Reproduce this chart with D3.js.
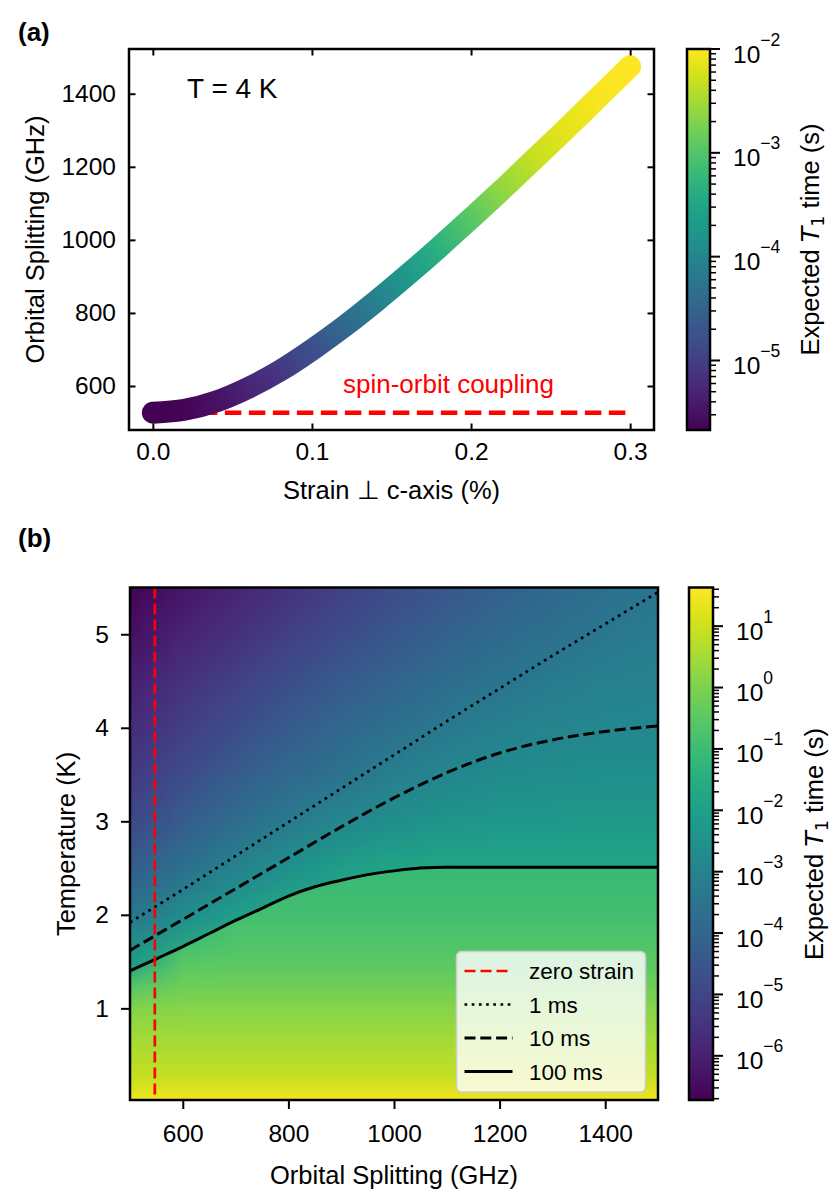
<!DOCTYPE html>
<html>
<head>
<meta charset="utf-8">
<script src="https://cdn.jsdelivr.net/npm/d3@7"></script>
<style>
  body { margin: 0; background: #fff; }
  svg text { font-family: "Liberation Sans", Arial, Helvetica, sans-serif; fill: #000; }
</style>
</head>
<body>
<div id="chart"></div>
<script>
// ---------- panel (a): splitting vs strain at T = 4 K ----------
const strainPct = [0.00, 0.02, 0.04, 0.06, 0.08, 0.10, 0.12, 0.14, 0.16, 0.18, 0.20, 0.22, 0.24, 0.26, 0.28, 0.30];
const splittingGHz = [527, 535, 558, 595, 642, 699, 762, 831, 904, 980, 1059, 1139, 1222, 1305, 1390, 1475];
const t1At4K = [2.14e-6, 2.34e-6, 3.09e-6, 4.90e-6, 8.51e-6, 1.70e-5, 3.63e-5, 8.32e-5, 2.00e-4, 4.68e-4,
                1.12e-3, 2.51e-3, 4.79e-3, 7.24e-3, 8.91e-3, 1.00e-2];
const spinOrbitGHz = 527;
const strainTicks = [0, 0.1, 0.2, 0.3];
const splitTicksA = [600, 800, 1000, 1200, 1400];
const cbarTicksA = [-5, -4, -3, -2];

// ---------- panel (b): T1 map over splitting and temperature ----------
const gridGHz = [500, 600, 700, 800, 900, 1000, 1100, 1200, 1300, 1400, 1500];
// log10(T1 / s) above the 100 ms boundary, rows from T = 5.5 K down to 1.0 K
const upperT = [5.5, 5.0, 4.5, 4.0, 3.5, 3.0, 2.5, 2.0, 1.5, 1.0];
const upperLogT1 = [
  [-6.65, -6.20, -5.85, -5.50, -5.12, -4.78, -4.45, -4.15, -3.90, -3.68, -3.48],
  [-6.35, -5.88, -5.52, -5.15, -4.78, -4.45, -4.12, -3.83, -3.60, -3.38, -3.21],
  [-5.95, -5.50, -5.09, -4.71, -4.35, -4.02, -3.73, -3.48, -3.23, -3.09, -3.02],
  [-5.65, -5.17, -4.74, -4.32, -3.94, -3.64, -3.31, -3.07, -2.93, -2.86, -2.81],
  [-5.30, -4.78, -4.30, -3.85, -3.50, -3.10, -2.84, -2.70, -2.60, -2.57, -2.56],
  [-4.85, -4.27, -3.74, -3.27, -2.82, -2.55, -2.35, -2.28, -2.26, -2.25, -2.25],
  [-4.25, -3.62, -2.98, -2.46, -2.04, -1.82, -1.77, -1.76, -1.75, -1.75, -1.75],
  [-3.45, -2.62, -2.00, -1.60, -1.52, -1.51, -1.50, -1.50, -1.50, -1.50, -1.50],
  [-2.10, -1.35, -1.23, -1.21, -1.20, -1.20, -1.20, -1.20, -1.20, -1.20, -1.20],
  [-0.10, -0.60, -0.80, -0.80, -0.80, -0.80, -0.80, -0.80, -0.80, -0.80, -0.80]
];
// log10(T1 / s) below the 100 ms boundary, rows from T = 2.75 K down to 0 K
const lowerT = [2.75, 2.5, 2.25, 2.0, 1.75, 1.5, 1.25, 1.0, 0.75, 0.5, 0.25, 0.0];
const lowerLogT1 = [
  [-4.00, -1.40, -1.25, -1.25, -1.25, -1.25, -1.25, -1.25, -1.25, -1.25, -1.25],
  [-3.80, -1.25, -1.10, -1.10, -1.10, -1.10, -1.10, -1.10, -1.10, -1.10, -1.10],
  [-3.50, -1.10, -0.97, -0.97, -0.97, -0.97, -0.97, -0.97, -0.97, -0.97, -0.97],
  [-3.20, -1.00, -0.85, -0.85, -0.85, -0.85, -0.85, -0.85, -0.85, -0.85, -0.85],
  [-2.80, -1.00, -0.70, -0.70, -0.70, -0.70, -0.70, -0.70, -0.70, -0.70, -0.70],
  [-2.00, -0.55, -0.50, -0.50, -0.50, -0.50, -0.50, -0.50, -0.50, -0.50, -0.50],
  [-0.60, -0.22, -0.20, -0.20, -0.20, -0.20, -0.20, -0.20, -0.20, -0.20, -0.20],
  [ 0.08,  0.12,  0.12,  0.12,  0.12,  0.12,  0.12,  0.12,  0.12,  0.12,  0.12],
  [ 0.42,  0.42,  0.42,  0.42,  0.42,  0.42,  0.42,  0.42,  0.42,  0.42,  0.42],
  [ 0.68,  0.68,  0.68,  0.68,  0.68,  0.68,  0.68,  0.68,  0.68,  0.68,  0.68],
  [ 0.93,  0.93,  0.93,  0.93,  0.93,  0.93,  0.93,  0.93,  0.93,  0.93,  0.93],
  [ 1.55,  1.55,  1.55,  1.55,  1.55,  1.55,  1.55,  1.55,  1.55,  1.55,  1.55]
];
const logT1Range = [-6.72, 1.63];

// iso-T1 lines (temperature in K at each splitting)
const isoGHz = [500, 600, 700, 800, 900, 1000, 1100, 1200, 1300, 1400, 1500];
const iso1ms = [1.92, 2.27, 2.63, 2.99, 3.35, 3.71, 4.07, 4.42, 4.77, 5.11, 5.45];
const iso10ms = [1.62, 1.95, 2.28, 2.61, 2.94, 3.25, 3.52, 3.73, 3.87, 3.96, 4.02];
const iso100GHz = [500, 550, 600, 650, 700, 750, 800, 850, 900, 950, 1000, 1050, 1100, 1200, 1300, 1400, 1500];
const iso100ms = [1.40, 1.53, 1.66, 1.80, 1.94, 2.07, 2.20, 2.30, 2.37, 2.43, 2.47, 2.50, 2.51, 2.51, 2.51, 2.51, 2.51];
const zeroStrainGHz = 547;
const splitTicksB = [600, 800, 1000, 1200, 1400];
const tempTicks = [1, 2, 3, 4, 5];
const cbarTicksB = [-6, -5, -4, -3, -2, -1, 0, 1];
const legendLabels = ['zero strain', '1 ms', '10 ms', '100 ms'];

const W = 831, H = 1200;
const svg = d3.select('#chart').append('svg').attr('width', W).attr('height', H);
const defs = svg.append('defs');

// ---------- helpers ----------
function powLabel(sel, exp) {
  sel.append('tspan').text('10');
  sel.append('tspan').attr('dy', -17).attr('font-size', 17.5)
    .text((exp < 0 ? '\u2212' : '') + Math.abs(exp));
}

function colorbar(g, x, y0, y1, w, scale, majors, id) {
  const grad = defs.append('linearGradient').attr('id', id)
    .attr('x1', 0).attr('y1', 1).attr('x2', 0).attr('y2', 0);
  d3.range(0, 1.0001, 0.05).forEach(t => {
    grad.append('stop').attr('offset', t).attr('stop-color', d3.interpolateViridis(t));
  });
  g.append('rect').attr('x', x).attr('y', y0).attr('width', w).attr('height', y1 - y0)
    .attr('fill', `url(#${id})`);
  const [lo, hi] = scale.domain();
  const minors = [];
  for (let n = Math.floor(Math.log10(lo)); n <= Math.ceil(Math.log10(hi)); n++) {
    for (let k = 2; k <= 9; k++) {
      const v = k * Math.pow(10, n);
      if (v >= lo && v <= hi) minors.push(v);
    }
  }
  g.selectAll(null).data(minors).enter().append('line')
    .attr('x1', x + w).attr('x2', x + w + 6)
    .attr('y1', d => scale(d)).attr('y2', d => scale(d))
    .attr('stroke', '#000').attr('stroke-width', 1.5);
  g.selectAll(null).data(majors).enter().append('line')
    .attr('x1', x + w).attr('x2', x + w + 10)
    .attr('y1', d => scale(Math.pow(10, d))).attr('y2', d => scale(Math.pow(10, d)))
    .attr('stroke', '#000').attr('stroke-width', 2);
  g.selectAll(null).data(majors).enter().append('text')
    .attr('x', x + w + 23).attr('y', d => scale(Math.pow(10, d)) + 13.5)
    .attr('font-size', 24.5)
    .each(function (d) { powLabel(d3.select(this), d); });
  g.append('rect').attr('x', x).attr('y', y0).attr('width', w).attr('height', y1 - y0)
    .attr('fill', 'none').attr('stroke', '#000').attr('stroke-width', 2.5);
}

function t1Label(g, cx, cy) {
  const t = g.append('text')
    .attr('transform', `translate(${cx},${cy}) rotate(-90)`)
    .attr('text-anchor', 'middle').attr('dy', '0.35em').attr('font-size', 25.5);
  t.append('tspan').text('Expected ');
  t.append('tspan').attr('font-family', 'DejaVu Sans').attr('font-style', 'italic').text('T');
  t.append('tspan').attr('font-family', 'DejaVu Sans').attr('font-size', 17.5).attr('dy', 5).text('1');
  t.append('tspan').attr('dy', -5).text(' time (s)');
}

function gridImage(rows, color) {
  const cw = rows[0].length, ch = rows.length;
  const canvas = document.createElement('canvas');
  canvas.width = cw; canvas.height = ch;
  const ctx = canvas.getContext('2d');
  const img = ctx.createImageData(cw, ch);
  rows.forEach((row, j) => row.forEach((v, i) => {
    const c = d3.rgb(color(v));
    const k = 4 * (j * cw + i);
    img.data[k] = c.r; img.data[k + 1] = c.g; img.data[k + 2] = c.b; img.data[k + 3] = 255;
  }));
  ctx.putImageData(img, 0, 0);
  return canvas.toDataURL();
}

// ================= panel (a) =================
const gA = svg.append('g');
const xA = d3.scaleLinear().domain([-0.015, 0.315]).range([129, 654]);
const yA = d3.scaleLinear().domain([479.6, 1522.4]).range([430, 49]);
const colorA = d3.scaleSequentialLog(d3.interpolateViridis).domain(d3.extent(t1At4K));

// spin-orbit level (under the curve)
gA.append('line')
  .attr('x1', xA(strainPct[0])).attr('x2', xA(strainPct[strainPct.length - 1]))
  .attr('y1', yA(spinOrbitGHz)).attr('y2', yA(spinOrbitGHz))
  .attr('stroke', '#ff0000').attr('stroke-width', 4.5).attr('stroke-dasharray', '16.5,7.5');

gA.append('text').attr('x', 343).attr('y', 393).attr('font-size', 26)
  .style('fill', '#ff0000').text('spin-orbit coupling');

// thick colour-coded curve: one smooth path, gradient stops at each point's projection
const pts = strainPct.map((s, i) => ({ x: xA(s), y: yA(splittingGHz[i]), t: t1At4K[i] }));
const p0 = pts[0], pN = pts[pts.length - 1];
const vx = pN.x - p0.x, vy = pN.y - p0.y, vv = vx * vx + vy * vy;
const curveGrad = defs.append('linearGradient').attr('id', 'curveA').attr('gradientUnits', 'userSpaceOnUse')
  .attr('x1', p0.x).attr('y1', p0.y).attr('x2', pN.x).attr('y2', pN.y);
pts.forEach(p => {
  curveGrad.append('stop')
    .attr('offset', ((p.x - p0.x) * vx + (p.y - p0.y) * vy) / vv)
    .attr('stop-color', colorA(p.t));
});
gA.append('path')
  .attr('d', d3.line().x(d => d.x).y(d => d.y).curve(d3.curveMonotoneX)(pts))
  .attr('fill', 'none').attr('stroke', 'url(#curveA)')
  .attr('stroke-width', 22).attr('stroke-linecap', 'round').attr('stroke-linejoin', 'round');

// axes with inward ticks on all four sides
const axA = [
  d3.axisBottom(xA).tickValues(strainTicks).tickFormat(d3.format('.1f')),
  d3.axisLeft(yA).tickValues(splitTicksA).tickFormat(d3.format('d')),
  d3.axisTop(xA).tickValues(strainTicks).tickFormat(''),
  d3.axisRight(yA).tickValues(splitTicksA).tickFormat('')
];
const posA = [`translate(0,430)`, `translate(129,0)`, `translate(0,49)`, `translate(654,0)`];
axA.forEach((ax, i) => {
  const a = gA.append('g').attr('transform', posA[i])
    .call(ax.tickSizeInner(-6.5).tickSizeOuter(0).tickPadding(13));
  a.select('.domain').remove();
  a.selectAll('.tick line').attr('stroke', '#000').attr('stroke-width', 2);
  a.selectAll('.tick text').attr('font-size', 24.5).attr('font-family', null);
});
gA.append('rect').attr('x', 129).attr('y', 49).attr('width', 654 - 129).attr('height', 430 - 49)
  .attr('fill', 'none').attr('stroke', '#000').attr('stroke-width', 2.5);

gA.append('text').attr('x', 187).attr('y', 98).attr('font-size', 28).text('T = 4 K');

gA.append('text').attr('x', (129 + 654) / 2).attr('y', 499).attr('text-anchor', 'middle')
  .attr('font-size', 25.5).text('Strain \u22A5 c-axis (%)');
gA.append('text').attr('transform', 'translate(35,239.5) rotate(-90)')
  .attr('text-anchor', 'middle').attr('dy', '0.35em').attr('font-size', 25.5)
  .text('Orbital Splitting (GHz)');

const cA = d3.scaleLog().domain(d3.extent(t1At4K)).range([430, 49]);
colorbar(gA, 687, 49, 430, 23, cA, cbarTicksA, 'cbarA');
t1Label(gA, 810, 239.5);

gA.append('text').attr('x', 18).attr('y', 41).attr('font-size', 26).attr('font-weight', 'bold').text('(a)');

// ================= panel (b) =================
const gB = svg.append('g');
const xB = d3.scaleLinear().domain([500, 1500]).range([130, 658]);
const yB = d3.scaleLinear().domain([0.02, 5.5]).range([1100, 587.5]);
const colorB = d3.scaleSequential(d3.interpolateViridis).domain(logT1Range);

defs.append('clipPath').attr('id', 'plotB').append('rect')
  .attr('x', 130).attr('y', 587.5).attr('width', 528).attr('height', 512.5);

const iso100 = iso100GHz.map((g, i) => ({ g, t: iso100ms[i] }));
defs.append('clipPath').attr('id', 'belowB').append('path')
  .attr('d', d3.area().x(d => xB(d.g)).y0(1100).y1(d => yB(d.t)).curve(d3.curveMonotoneX)(iso100));

const stepG = gridGHz[1] - gridGHz[0];
const imgX0 = xB(gridGHz[0] - stepG / 2);
const imgW = xB(gridGHz[gridGHz.length - 1] + stepG / 2) - imgX0;
const upStep = upperT[0] - upperT[1];
gB.append('g').attr('clip-path', 'url(#plotB)').append('image')
  .attr('href', gridImage(upperLogT1, colorB))
  .attr('x', imgX0).attr('width', imgW)
  .attr('y', yB(upperT[0] + upStep / 2))
  .attr('height', yB(upperT[upperT.length - 1] - upStep / 2) - yB(upperT[0] + upStep / 2))
  .attr('preserveAspectRatio', 'none');

const loStep = lowerT[0] - lowerT[1];
gB.append('g').attr('clip-path', 'url(#belowB)').append('image')
  .attr('href', gridImage(lowerLogT1, colorB))
  .attr('x', imgX0).attr('width', imgW)
  .attr('y', yB(lowerT[0] + loStep / 2))
  .attr('height', yB(lowerT[lowerT.length - 1] - loStep / 2) - yB(lowerT[0] + loStep / 2))
  .attr('preserveAspectRatio', 'none');

const lineB = d3.line().x(d => xB(d.g)).y(d => yB(d.t)).curve(d3.curveMonotoneX);
const isoG = gB.append('g').attr('clip-path', 'url(#plotB)').attr('fill', 'none').attr('stroke', '#000');
isoG.append('path').attr('d', lineB(isoGHz.map((g, i) => ({ g, t: iso1ms[i] }))))
  .attr('stroke-width', 2.7).attr('stroke-dasharray', '2.7,4.5');
isoG.append('path').attr('d', lineB(isoGHz.map((g, i) => ({ g, t: iso10ms[i] }))))
  .attr('stroke-width', 3).attr('stroke-dasharray', '11,4.8');
isoG.append('path').attr('d', lineB(iso100)).attr('stroke-width', 3);

gB.append('line').attr('x1', xB(zeroStrainGHz)).attr('x2', xB(zeroStrainGHz))
  .attr('y1', 587.5).attr('y2', 1100)
  .attr('stroke', '#ff0000').attr('stroke-width', 2.7).attr('stroke-dasharray', '11,5');

const axBx = gB.append('g').attr('transform', 'translate(0,1100)')
  .call(d3.axisBottom(xB).tickValues(splitTicksB).tickFormat(d3.format('d'))
    .tickSizeInner(9).tickSizeOuter(0).tickPadding(16));
const axBy = gB.append('g').attr('transform', 'translate(130,0)')
  .call(d3.axisLeft(yB).tickValues(tempTicks).tickFormat(d3.format('d'))
    .tickSizeInner(9).tickSizeOuter(0).tickPadding(12));
[axBx, axBy].forEach(a => {
  a.select('.domain').remove();
  a.selectAll('.tick line').attr('stroke', '#000').attr('stroke-width', 2);
  a.selectAll('.tick text').attr('font-size', 24.5).attr('font-family', null);
});
gB.append('rect').attr('x', 130).attr('y', 587.5).attr('width', 528).attr('height', 512.5)
  .attr('fill', 'none').attr('stroke', '#000').attr('stroke-width', 2.5);

// legend
const lg = gB.append('g');
lg.append('rect').attr('x', 456.5).attr('y', 951.5).attr('width', 189).attr('height', 140.5)
  .attr('rx', 5).attr('fill', '#fff').attr('fill-opacity', 0.8)
  .attr('stroke', '#cccccc').attr('stroke-width', 1.5);
const lgStyle = [
  { c: '#ff0000', w: 2.7, dash: '11,5' },
  { c: '#000', w: 2.7, dash: '2.7,4.5' },
  { c: '#000', w: 3, dash: '11,4.8' },
  { c: '#000', w: 3, dash: null }
];
legendLabels.forEach((lab, i) => {
  const y = 971 + i * 33.5;
  lg.append('line').attr('x1', 464.5).attr('x2', 512.5).attr('y1', y).attr('y2', y)
    .attr('stroke', lgStyle[i].c).attr('stroke-width', lgStyle[i].w)
    .attr('stroke-dasharray', lgStyle[i].dash);
  lg.append('text').attr('x', 529).attr('y', y + 8).attr('font-size', 22.5).text(lab);
});

gB.append('text').attr('x', (130 + 658) / 2).attr('y', 1184).attr('text-anchor', 'middle')
  .attr('font-size', 25.5).text('Orbital Splitting (GHz)');
gB.append('text').attr('transform', 'translate(66,844) rotate(-90)')
  .attr('text-anchor', 'middle').attr('dy', '0.35em').attr('font-size', 25.5)
  .text('Temperature (K)');

const cB = d3.scaleLog().domain(logT1Range.map(v => Math.pow(10, v))).range([1100, 587.5]);
colorbar(gB, 689, 587.5, 1100, 24, cB, cbarTicksB, 'cbarB');
t1Label(gB, 814, 844);

gB.append('text').attr('x', 18).attr('y', 547).attr('font-size', 26).attr('font-weight', 'bold').text('(b)');
</script>
</body>
</html>
